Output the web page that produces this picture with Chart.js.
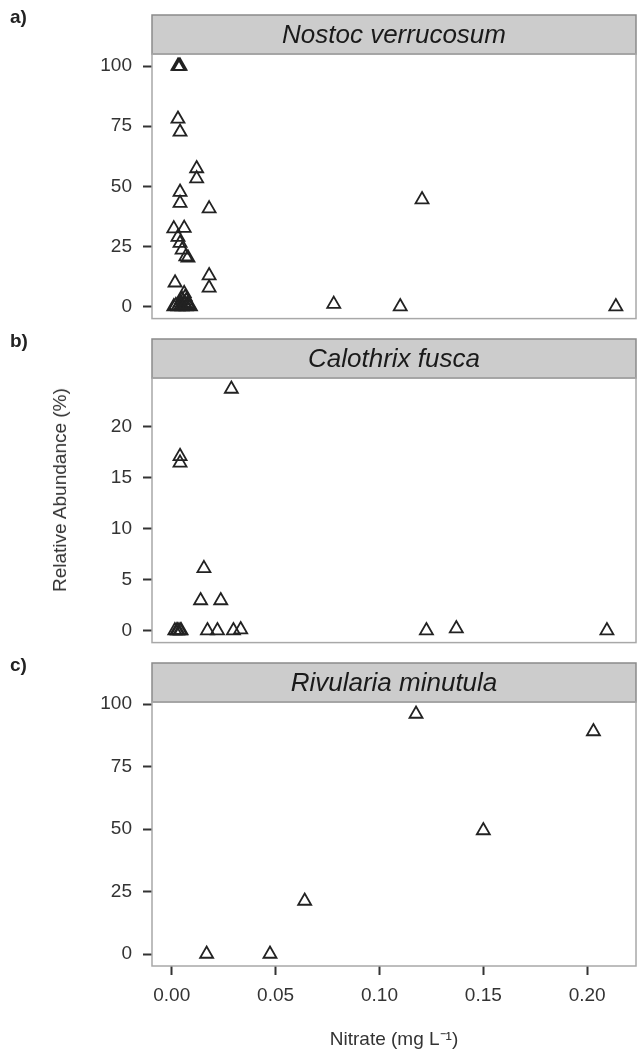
<!DOCTYPE html>
<html>
<head>
<meta charset="utf-8">
<script src="https://cdn.jsdelivr.net/npm/chart.js@4"></script>
<style>
  body { margin: 0; background: #fff; }
  #wrap { position: relative; width: 637px; height: 1051px; font-family: "Liberation Sans", Arial, sans-serif; }
  canvas { position: absolute; left: 0; }
  .tag { position: absolute; left: 10px; font-weight: bold; font-size: 19px; color: #222; }
  #ytitle { position: absolute; left: 60px; top: 490px; transform: translate(-50%, -50%) rotate(-90deg);
            white-space: nowrap; font-size: 19px; color: #333; }
</style>
</head>
<body>
<div id="wrap">
  <canvas id="chartA" width="637" height="341" style="top:0px;width:637px;height:341px"></canvas>
  <canvas id="chartB" width="637" height="341" style="top:324px;width:637px;height:341px"></canvas>
  <canvas id="chartC" width="637" height="403" style="top:648px;width:637px;height:403px"></canvas>
  <div class="tag" style="top:6px">a)</div>
  <div class="tag" style="top:330px">b)</div>
  <div class="tag" style="top:654px">c)</div>
  <div id="ytitle">Relative Abundance (%)</div>
</div>
<script>
// Nostoc verrucosum
var nostocX = [0.003, 0.0035, 0.004, 0.003, 0.004, 0.012, 0.012, 0.004, 0.004, 0.018,
               0.001, 0.006, 0.003, 0.004, 0.005, 0.0068, 0.0078, 0.018, 0.018, 0.0016,
               0.006, 0.0065, 0.005, 0.007, 0.004, 0.006, 0.008, 0.002, 0.003, 0.001,
               0.005, 0.007, 0.009, 0.008, 0.0045, 0.0065,
               0.078, 0.110, 0.1205, 0.2138];
var nostocY = [100, 100, 100, 78, 72.6, 57.4, 53.2, 47.6, 43, 40.7,
               32.4, 32.6, 28.9, 26.4, 23.6, 20.8, 20.3, 12.9, 7.8, 9.9,
               5.5, 4, 3, 2.5, 1.5, 1.5, 1, 0.5, 0, 0,
               0, 0, 0, 0.3, 0.5, 0.8,
               1, 0, 44.5, 0];

// Calothrix fusca
var calothrixX = [0.0287, 0.004, 0.004, 0.0155, 0.0139, 0.0236,
                  0.0015, 0.0025, 0.003, 0.004, 0.0045, 0.0172, 0.022, 0.0297, 0.0332,
                  0.1226, 0.137, 0.2095];
var calothrixY = [23.7, 17.1, 16.45, 6.1, 2.95, 2.95,
                  0, 0, 0, 0, 0, 0, 0, 0, 0.1,
                  0, 0.2, 0];

// Rivularia minutula
var rivulariaX = [0.0168, 0.0473, 0.064, 0.1176, 0.150, 0.203];
var rivulariaY = [0, 0, 21.2, 96, 49.4, 89];

var xTicks = [0, 0.05, 0.10, 0.15, 0.20];
var xRange = [-0.0095, 0.2235];
var yTicksA = [0, 25, 50, 75, 100];
var yTicksB = [0, 5, 10, 15, 20];
var yTicksC = [0, 25, 50, 75, 100];

var fontName = "'Liberation Sans', Arial, sans-serif";
var ink = '#333333';

// gray facet strip above the panel plus the panel frame
var facetPlugin = {
    id: 'facet',
    afterDraw: function (chart, args, opts) {
        var a = chart.chartArea, ctx = chart.ctx;
        var h = 39;
        ctx.save();
        ctx.fillStyle = '#cccccc';
        ctx.fillRect(a.left, a.top - h, a.right - a.left, h);
        ctx.strokeStyle = '#8a8a8a';
        ctx.lineWidth = 1.5;
        ctx.strokeRect(a.left, a.top - h, a.right - a.left, h);
        ctx.fillStyle = '#1a1a1a';
        ctx.font = 'italic 26px ' + fontName;
        ctx.textAlign = 'center';
        ctx.textBaseline = 'middle';
        ctx.fillText(opts.title, (a.left + a.right) / 2, a.top - h / 2 + 1);
        ctx.strokeStyle = '#a8a8a8';
        ctx.strokeRect(a.left, a.top, a.right - a.left, a.bottom - a.top);
        ctx.restore();
    }
};

function makeChart(id, title, xs, ys, yMin, yMax, yTicks, showX) {
    var pts = xs.map(function (x, i) { return { x: x, y: ys[i] }; });
    return new Chart(document.getElementById(id), {
        type: 'scatter',
        data: {
            datasets: [{
                data: pts,
                pointStyle: 'triangle',
                pointRadius: 7.5,
                borderWidth: 1.8,
                borderColor: '#222222',
                backgroundColor: 'rgba(0,0,0,0)',
                clip: false
            }]
        },
        plugins: [facetPlugin],
        options: {
            responsive: false,
            maintainAspectRatio: false,
            animation: false,
            layout: { autoPadding: false, padding: { top: 54, right: 1, left: 0, bottom: 0 } },
            plugins: {
                legend: { display: false },
                tooltip: { enabled: false },
                facet: { title: title }
            },
            scales: {
                x: {
                    type: 'linear',
                    display: showX,
                    min: xRange[0],
                    max: xRange[1],
                    afterBuildTicks: function (s) { s.ticks = xTicks.map(function (v) { return { value: v }; }); },
                    afterFit: function (s) { s.height = showX ? 85 : 0; },
                    border: { display: false },
                    grid: { drawOnChartArea: false, drawTicks: true, tickLength: 9, tickColor: ink, tickWidth: 2 },
                    ticks: {
                        color: ink, padding: 9, maxRotation: 0,
                        font: { family: fontName, size: 19 },
                        callback: function (v) { return v.toFixed(2); }
                    },
                    title: {
                        display: true,
                        text: 'Nitrate (mg L\u207B\u00B9)',
                        color: ink,
                        font: { family: fontName, size: 19 },
                        padding: { top: 4, bottom: 0 }
                    }
                },
                y: {
                    min: yMin,
                    max: yMax,
                    afterBuildTicks: function (s) { s.ticks = yTicks.map(function (v) { return { value: v }; }); },
                    afterFit: function (s) { s.width = 152; },
                    border: { display: false },
                    grid: { drawOnChartArea: false, drawTicks: true, tickLength: 9, tickColor: ink, tickWidth: 2 },
                    ticks: { color: ink, padding: 11, font: { family: fontName, size: 19 } }
                }
            }
        }
    });
}

makeChart('chartA', 'Nostoc verrucosum', nostocX, nostocY, -5, 105, yTicksA, false);
makeChart('chartB', 'Calothrix fusca', calothrixX, calothrixY, -1.18, 24.78, yTicksB, false);
makeChart('chartC', 'Rivularia minutula', rivulariaX, rivulariaY, -4.8, 100.8, yTicksC, true);
</script>
</body>
</html>
